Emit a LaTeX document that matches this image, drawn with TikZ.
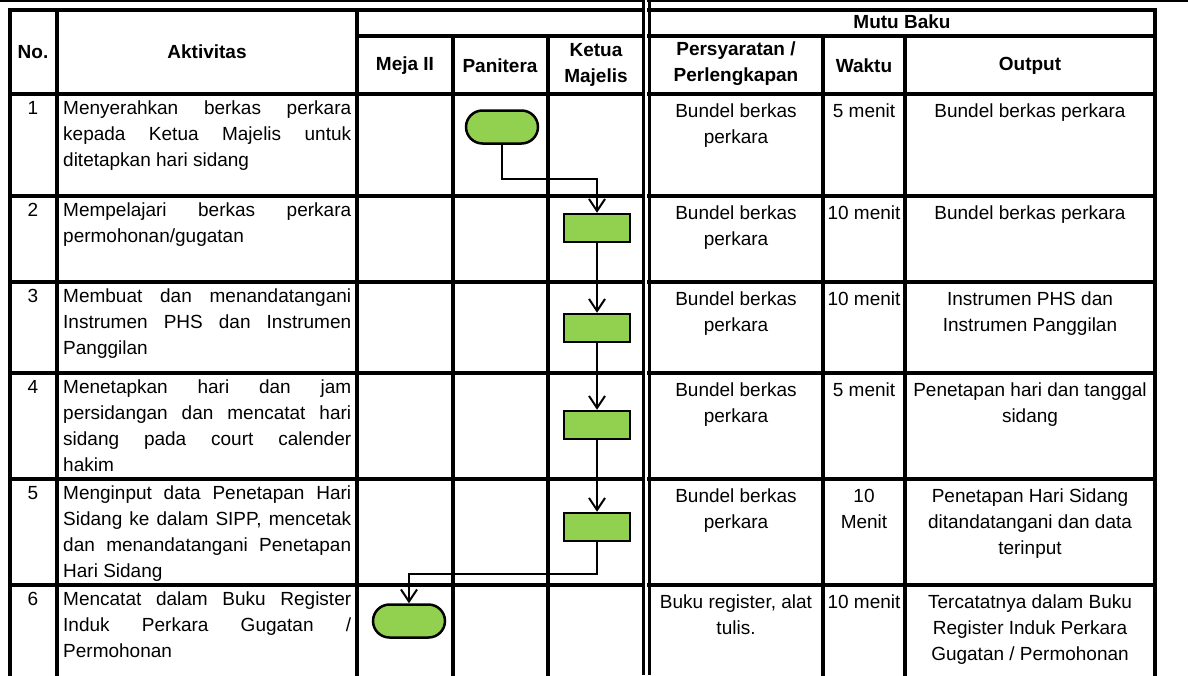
\documentclass[tikz,border=0pt]{standalone}
\usepackage{fontspec}
\setmainfont{Liberation Sans}
\usetikzlibrary{arrows.meta}
\usetikzlibrary{shapes.misc}
\definecolor{actgreen}{HTML}{92D050}

\begin{document}
\begin{tikzpicture}[x=1pt, y=-1pt, font=\fontsize{19}{26}\selectfont,
  rule/.style={line width=3.5pt, line cap=rect},
  head/.style={font=\fontsize{19}{26}\selectfont\bfseries, align=center},
  num/.style={anchor=north, inner sep=0pt},
  akt/.style={anchor=north west, text width=288pt, align=justify, inner sep=0pt},
  cell/.style={anchor=north, align=center, inner sep=0pt},
  proc/.style={draw, fill=actgreen, line width=2.5pt, minimum width=66pt, minimum height=28pt, inner sep=0pt},
  term/.style={draw, fill=actgreen, line width=2.5pt, rounded rectangle, minimum width=72pt, minimum height=33pt, inner sep=0pt},
  flow/.style={line width=2pt, -{Straight Barb[length=12pt, width=16pt]}}]
\useasboundingbox (0,0) rectangle (1188,675);
% table rules
\draw[line width=1.5pt] (0,1) -- (645,1) (647,1) -- (1188,1);
\foreach \y in {10,196,282,373,479,585} {
 \draw[rule] (10,\y) -- (643,\y);
 \draw[rule] (649,\y) -- (1155,\y);
}
\draw[rule, line width=4.5pt] (10,94) -- (643,94) (649,94) -- (1155,94);
\draw[rule] (357,36) -- (643,36) (649,36) -- (1155,36);
\foreach \x in {10,57,357,1155} \draw[rule] (\x,10) -- (\x,675);
\foreach \x in {453,548,823,905} \draw[rule] (\x,36) -- (\x,675);
\draw[line width=3pt] (643,0) -- (643,675) (649,0) -- (649,675);
% header
\node[head] (hno) at (33,52) {No.};
\node[head] (hakt) at (207,52) {Aktivitas};
\node[head] (hmeja) at (405,66) {Meja II};
\node[head] (hpan) at (500,66) {Panitera};
\node[head] (hketua) at (596,65) {Ketua\\Majelis};
\node[head] (hmutu) at (902,22) {Mutu Baku};
\node[head] (hsyarat) at (736,64) {Persyaratan /\\Perlengkapan};
\node[head] (hwaktu) at (864,66) {Waktu};
\node[head] (hout) at (1030,66) {Output};
% rows
\foreach \n/\t in {1/94,2/196,3/282,4/373,5/479,6/585}
 \node[num] (no\n) at (33,\t+7) {\n};
\node[akt] (akt1) at (63,101) {Menyerahkan berkas perkara\linebreak kepada Ketua Majelis untuk\linebreak ditetapkan hari sidang};
\node[akt] (akt2) at (63,203) {Mempelajari berkas perkara\linebreak permohonan/gugatan};
\node[akt] (akt3) at (63,289) {Membuat dan menandatangani\linebreak Instrumen PHS dan Instrumen\linebreak Panggilan};
\node[akt] (akt4) at (63,380) {Menetapkan hari dan jam\linebreak persidangan dan mencatat hari\linebreak sidang pada court calender\linebreak hakim};
\node[akt] (akt5) at (63,486) {Menginput data Penetapan Hari\linebreak Sidang ke dalam SIPP, mencetak\linebreak dan menandatangani Penetapan\linebreak Hari Sidang};
\node[akt] (akt6) at (63,592) {Mencatat dalam Buku Register\linebreak Induk Perkara Gugatan /\linebreak Permohonan};
% mutu baku
\node[cell] (syarat1) at (736,104) {Bundel berkas\\perkara};
\node[cell] (syarat2) at (736,206) {Bundel berkas\\perkara};
\node[cell] (syarat3) at (736,292) {Bundel berkas\\perkara};
\node[cell] (syarat4) at (736,383) {Bundel berkas\\perkara};
\node[cell] (syarat5) at (736,489) {Bundel berkas\\perkara};
\node[cell] (syarat6) at (736,595) {Buku register, alat\\tulis.};
\node[cell] (waktu1) at (864,104) {5 menit};
\node[cell] (waktu2) at (864,206) {10 menit};
\node[cell] (waktu3) at (864,292) {10 menit};
\node[cell] (waktu4) at (864,383) {5 menit};
\node[cell] (waktu5) at (864,489) {10\\Menit};
\node[cell] (waktu6) at (864,595) {10 menit};
\node[cell] (out1) at (1030,104) {Bundel berkas perkara};
\node[cell] (out2) at (1030,206) {Bundel berkas perkara};
\node[cell] (out3) at (1030,292) {Instrumen PHS dan\\Instrumen Panggilan};
\node[cell] (out4) at (1030,383) {Penetapan hari dan tanggal\\sidang};
\node[cell] (out5) at (1030,489) {Penetapan Hari Sidang\\ditandatangani dan data\\terinput};
\node[cell] (out6) at (1030,595) {Tercatatnya dalam Buku\\Register Induk Perkara\\Gugatan / Permohonan};
% flow
\node[term] (t1) at (502,127) {};
\node[proc] (p2) at (597,228) {};
\node[proc] (p3) at (597,328) {};
\node[proc] (p4) at (597,425) {};
\node[proc] (p5) at (597,527) {};
\node[term] (t6) at (409,621) {};
\draw[flow] (t1.south) -- ++(0,34) -| (p2.north);
\draw[flow] (p2) -- (p3);
\draw[flow] (p3) -- (p4);
\draw[flow] (p4) -- (p5);
\draw[flow] (p5.south) -- ++(0,32) -| (t6.north);
\end{tikzpicture}
\end{document}
